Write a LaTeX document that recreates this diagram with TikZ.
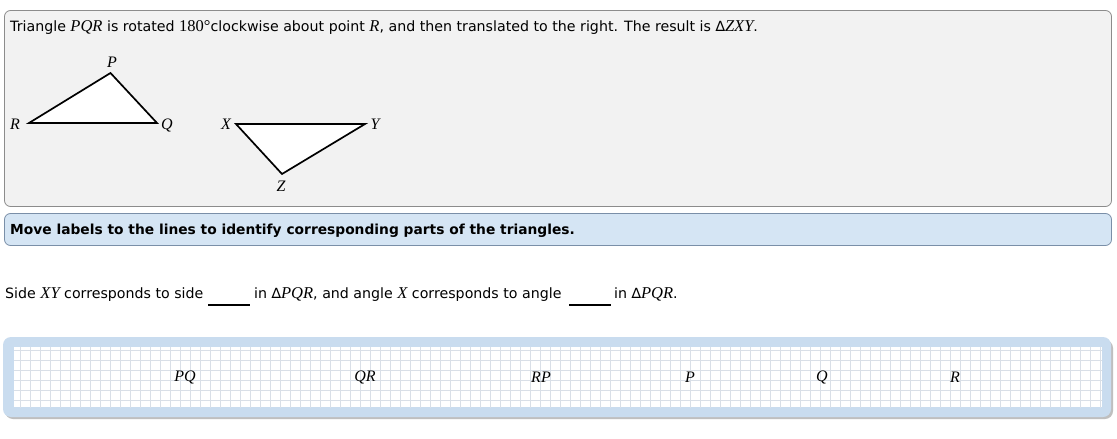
\documentclass[tikz,border=0pt]{standalone}
\usepackage{fontspec}
\setmainfont{DejaVu Sans}
\newfontfamily\serif{Liberation Serif}
\newcommand{\mv}[1]{{\serif\itshape\fontsize{16.5}{18}\selectfont #1}}
\newcommand{\mr}[1]{{\serif\fontsize{16.5}{18}\selectfont #1}}
\definecolor{topfill}{HTML}{F2F2F2}
\definecolor{topline}{HTML}{8C8C8C}
\definecolor{bluefill}{HTML}{D5E5F4}
\definecolor{blueline}{HTML}{7A8FA8}
\definecolor{trayfill}{HTML}{C9DCEF}
\definecolor{gridcol}{HTML}{D9DFE7}
\begin{document}
\begin{tikzpicture}[x=1pt,y=-1pt,
  panel/.style={draw=topline,fill=topfill,rounded corners=6pt,line width=0.8pt},
  bluepanel/.style={draw=blueline,fill=bluefill,rounded corners=6pt,line width=0.8pt},
  tri/.style={draw=black,fill=white,line width=1.7pt,line join=miter},
  txt/.style={inner sep=0pt,anchor=base west,font=\fontsize{14.2}{16}\selectfont},
  vlab/.style={inner sep=0pt,font=\serif\itshape\fontsize{16}{18}\selectfont},
  blank/.style={line width=1.5pt},
  card/.style={inner sep=0pt,font=\serif\itshape\fontsize{16}{18}\selectfont}]
\useasboundingbox (0,0) rectangle (1117,439);
\fill[white] (0,0) rectangle (1117,439);
% top panel
\draw[panel] (4.5,10.5) rectangle (1111.5,206.5);
\node[txt] (intro) at (10,31) {Triangle \mv{PQR} is rotated \mr{180°}clockwise about point \mv{R}, and then translated to the right. The result is ∆\mv{ZXY}.};
% triangle PQR
\coordinate (R) at (29,123);
\coordinate (P) at (110.5,73);
\coordinate (Q) at (157,123);
\draw[tri] (R) -- (P) -- (Q) -- cycle;
\node[vlab] (lP) at (112,62) {P};
\node[vlab] (lR) at (15,124) {R};
\node[vlab] (lQ) at (167,125) {Q};
% triangle XYZ
\coordinate (X) at (236,124);
\coordinate (Y) at (365,124);
\coordinate (Z) at (282,174);
\draw[tri] (X) -- (Y) -- (Z) -- cycle;
\node[vlab] (lX) at (226,124) {X};
\node[vlab] (lY) at (375,124) {Y};
\node[vlab] (lZ) at (281,186) {Z};
% blue instruction bar
\draw[bluepanel] (4.5,213.5) rectangle (1111.5,245.5);
\node[txt,font=\bfseries\fontsize{13.8}{15}\selectfont] (instr) at (10,234) {Move labels to the lines to identify corresponding parts of the triangles.};
% sentence
\node[txt] (s1) at (5,298) {Side \mv{XY} corresponds to side};
\coordinate (b1a) at (208,305);
\coordinate (b1b) at (250,305);
\draw[blank] (b1a) -- (b1b);
\node[txt] (s2) at (254,298) {in ∆\mv{PQR}, and angle \mv{X} corresponds to angle};
\coordinate (b2a) at (569,305);
\coordinate (b2b) at (611,305);
\draw[blank] (b2a) -- (b2b);
\node[txt] (s3) at (614,298) {in ∆\mv{PQR}.};
% answer tray
\fill[black!25,rounded corners=8pt] (5,340) rectangle (1113,419);
\fill[trayfill,rounded corners=8pt] (3,337) rectangle (1111,417);
\fill[white] (14,347) rectangle (1102,407);
\begin{scope}
\clip (14,347) rectangle (1102,407);
\draw[gridcol,line width=0.7pt,step=10pt] (10,340) grid (1110,410);
\end{scope}
\node[card] (cPQ) at (185,377) {PQ};
\node[card] (cQR) at (365,377) {QR};
\node[card] (cRP) at (541,377) {RP};
\node[card] (cP) at (690,377) {P};
\node[card] (cQ) at (822,377) {Q};
\node[card] (cR) at (955,377) {R};
\end{tikzpicture}
\end{document}
